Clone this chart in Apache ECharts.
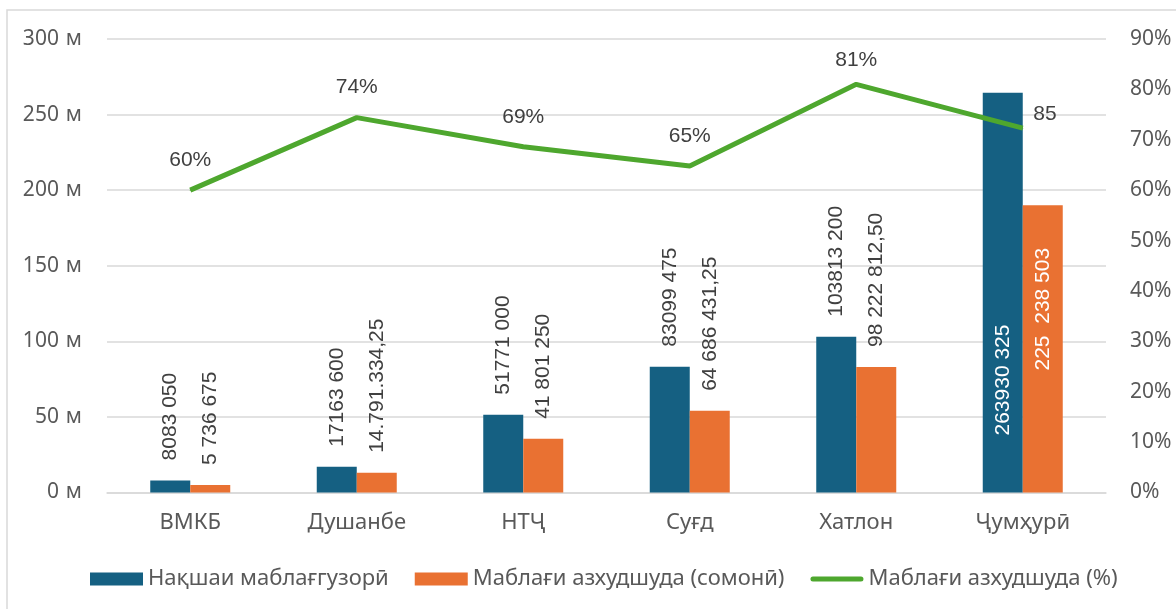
<!DOCTYPE html>
<html>
<head>
<meta charset="utf-8">
<script src="https://cdn.jsdelivr.net/npm/echarts@6/dist/echarts.min.js"></script>
<style>
  html, body { margin: 0; padding: 0; background: #fff; }
  #chart { width: 1176px; height: 609px; }
</style>
</head>
<body>
<div id="chart"></div>
<script>
// категорияҳо ва қиматҳо (миллион сомонӣ)
const categories = ['ВМКБ', 'Душанбе', 'НТҶ', 'Суғд', 'Хатлон', 'Ҷумҳурӣ'];
const planValues = [8, 17, 51.5, 83.2, 103, 264.5];
const spentValues = [5, 13, 35.5, 54, 83, 190];
const pctValues = [60, 74.4, 68.6, 64.8, 81, 72.3];
// матни тамғаҳо
const planLabels = ['8083 050', '17163 600', '51771 000', '83099 475', '103813 200', '263930 325'];
const spentLabels = ['5 736 675', '14.791.334,25', '41 801 250', '64 686 431,25', '98 222 812,50', '225  238 503'];
const pctLabels = ['60%', '74%', '69%', '65%', '81%', '85'];
const seriesNames = ['Нақшаи маблағгузорӣ', 'Маблағи азхудшуда (сомонӣ)', 'Маблағи азхудшуда (%)'];
const leftTicks = { min: 0, max: 300, interval: 50 };
const rightTicks = { min: 0, max: 90, interval: 10 };

const labelFont = 'Liberation Sans';
const axisFont = 'Noto Sans';

// тамғаи амудӣ болои сутун
function barLabel(texts) {
  return {
    show: true,
    position: 'top',
    distance: 20,
    rotate: 90,
    align: 'left',
    verticalAlign: 'middle',
    fontFamily: labelFont,
    fontSize: 21,
    color: '#404040',
    formatter: function (p) { return texts[p.dataIndex]; }
  };
}

function barData(values, insideDistance) {
  return values.map(function (v, i) {
    if (i === values.length - 1) {
      // сутуни охир - тамға дар дохил, сафед
      return { value: v, label: { position: 'insideBottom', distance: insideDistance, color: '#ffffff' } };
    }
    return v;
  });
}

const lineData = pctValues.map(function (v, i) {
  if (i === 4) return { value: v, label: { distance: 13 } };
  if (i === pctValues.length - 1) return { value: v, label: { position: 'right', distance: 10, offset: [0, -14] } };
  return v;
});

const chart = echarts.init(document.getElementById('chart'));
chart.setOption({
  animation: false,
  textStyle: { fontFamily: axisFont },
  color: ['#156082', '#E97132', '#4EA72E'],
  graphic: [{
    type: 'rect',
    shape: { x: 7, y: 10, width: 1300, height: 700 },
    style: { fill: 'none', stroke: '#d9d9d9', lineWidth: 1.5 },
    silent: true
  }],
  grid: { left: 107, right: 70, top: 39, bottom: 116.5 },
  legend: {
    top: 563,
    left: 85,
    itemWidth: 53,
    itemHeight: 13,
    itemGap: 26,
    textStyle: { fontSize: 22, color: '#595959', fontFamily: axisFont },
    data: [
      { name: seriesNames[0], icon: 'rect' },
      { name: seriesNames[1], icon: 'rect' },
      { name: seriesNames[2], icon: 'path://M2.5,0 L50.5,0 A2.5,2.5 0 0 1 50.5,5 L2.5,5 A2.5,2.5 0 0 1 2.5,0 Z' }
    ]
  },
  xAxis: {
    type: 'category',
    data: categories,
    axisTick: { show: false },
    axisLine: { lineStyle: { color: '#d9d9d9', width: 1.5 } },
    axisLabel: { color: '#595959', fontSize: 22, margin: 19 }
  },
  yAxis: [{
    type: 'value',
    min: leftTicks.min,
    max: leftTicks.max,
    interval: leftTicks.interval,
    axisLine: { show: false },
    axisTick: { show: false },
    axisLabel: {
      color: '#595959',
      fontSize: 21,
      margin: 25,
      formatter: function (v) { return v + '\u2009\u2009м'; }
    },
    splitLine: { lineStyle: { color: '#d9d9d9', width: 1.5 } }
  }, {
    type: 'value',
    min: rightTicks.min,
    max: rightTicks.max,
    interval: rightTicks.interval,
    axisLine: { show: false },
    axisTick: { show: false },
    axisLabel: { color: '#595959', fontSize: 21, margin: 24, formatter: '{value}%' },
    splitLine: { show: false }
  }],
  series: [{
    name: seriesNames[0],
    type: 'bar',
    barWidth: 40,
    barGap: '0%',
    label: barLabel(planLabels),
    data: barData(planValues, 57)
  }, {
    name: seriesNames[1],
    type: 'bar',
    barWidth: 40,
    barGap: '0%',
    label: barLabel(spentLabels),
    data: barData(spentValues, 122)
  }, {
    name: seriesNames[2],
    type: 'line',
    yAxisIndex: 1,
    symbol: 'circle',
    symbolSize: 1,
    lineStyle: { width: 5 },
    label: {
      show: true,
      position: 'top',
      distance: 19,
      fontFamily: labelFont,
      fontSize: 21,
      color: '#404040',
      formatter: function (p) { return pctLabels[p.dataIndex]; }
    },
    data: lineData
  }]
});
</script>
</body>
</html>
